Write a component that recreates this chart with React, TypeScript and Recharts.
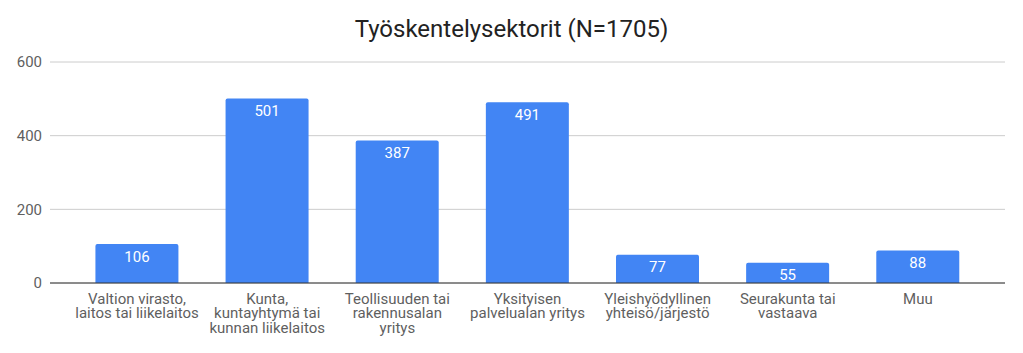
import React from "react";
import { BarChart, Bar, XAxis, YAxis, CartesianGrid, LabelList } from "recharts";

const title = "Työskentelysektorit (N=1705)";
const categories = [
  "Valtion virasto,\nlaitos tai liikelaitos",
  "Kunta,\nkuntayhtymä tai\nkunnan liikelaitos",
  "Teollisuuden tai\nrakennusalan\nyritys",
  "Yksityisen\npalvelualan yritys",
  "Yleishyödyllinen\nyhteisö/järjestö",
  "Seurakunta tai\nvastaava",
  "Muu",
];
const values = [106, 501, 387, 491, 77, 55, 88];
const yTicks = [0, 200, 400, 600];

const data = categories.map((c, i) => ({ name: c, value: values[i] }));

const FONT = "Roboto, 'Noto Sans', sans-serif";

const XTick = (props: any) => {
  const { x, y, payload } = props;
  const lines = String(payload.value).split("\n");
  return (
    <text x={x} y={y} textAnchor="middle" fill="#5f5f5f" fontSize={15} fontFamily={FONT}>
      {lines.map((l: string, i: number) => (
        <tspan key={i} x={x} dy={i === 0 ? 12.5 : 14.5}>
          {l}
        </tspan>
      ))}
    </text>
  );
};

export default function App() {
  return (
    <div style={{ position: "absolute", left: 0, top: 0, width: 1023, height: 353, background: "#fff" }}>
      <div
        style={{
          position: "absolute",
          left: 0,
          top: 14,
          width: 1023,
          textAlign: "center",
          fontFamily: FONT,
          fontSize: 24,
          color: "#222",
          lineHeight: "30px",
        }}
      >
        {title}
      </div>
      <BarChart
        width={1023}
        height={353}
        data={data}
        margin={{ top: 62, right: 18, bottom: 0, left: 0 }}
        barCategoryGap="18%"
      >
        <CartesianGrid vertical={false} stroke="#cccccc" />
        <XAxis
          dataKey="name"
          interval={0}
          tick={<XTick />}
          tickLine={false}
          axisLine={{ stroke: "#333333" }}
          padding={{ left: 22, right: 22 }}
          height={70}
        />
        <YAxis
          domain={[0, 600]}
          ticks={yTicks}
          width={50}
          axisLine={false}
          tickLine={false}
          tickMargin={2}
          tick={{ fill: "#5f5f5f", fontSize: 15, fontFamily: FONT }}
        />
        <Bar dataKey="value" fill="#4285f4" radius={[2, 2, 0, 0]} isAnimationActive={false}>
          <LabelList
            dataKey="value"
            position="insideTop"
            offset={7}
            fill="#ffffff"
            fontSize={15}
            fontFamily={FONT}
          />
        </Bar>
      </BarChart>
    </div>
  );
}
